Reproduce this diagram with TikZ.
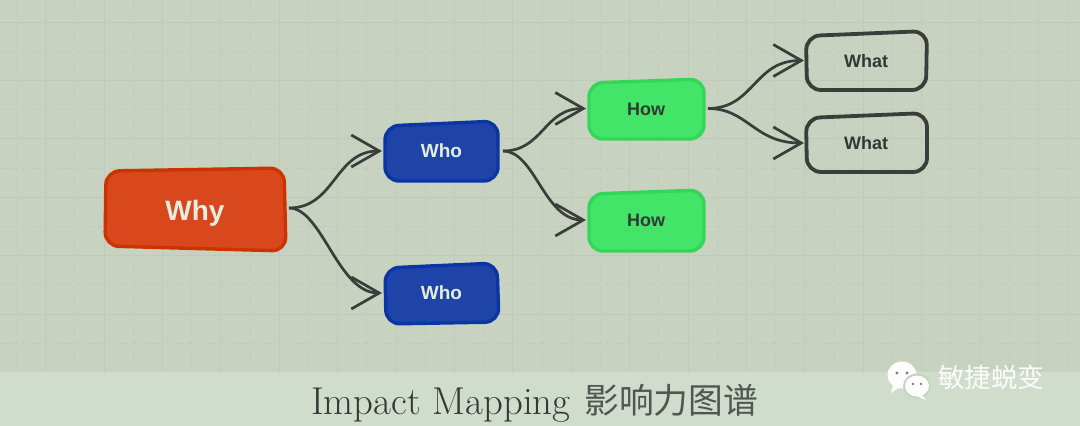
\documentclass[tikz,border=0pt]{standalone}
\usepackage{fontspec}
\setmainfont{Liberation Sans}
\newfontfamily\lmfont{Latin Modern Roman}
\newfontfamily\cjkfont{Noto Sans CJK SC}
\usetikzlibrary{arrows.meta,calc}
\definecolor{bgc}{HTML}{C8D2C0}
\definecolor{bandc}{HTML}{D0DDCC}
\definecolor{gridc}{HTML}{BFCAB7}
\definecolor{inkc}{HTML}{3A3D39}
\definecolor{whyfill}{HTML}{D8481C}
\definecolor{whyline}{HTML}{CC3300}
\definecolor{whofill}{HTML}{1F44A8}
\definecolor{wholine}{HTML}{0B35A3}
\definecolor{howfill}{HTML}{42E567}
\definecolor{howline}{HTML}{35D658}
\definecolor{lighttext}{HTML}{E4EEDF}
\definecolor{darktext}{HTML}{333835}
\tikzset{
  x=1pt,y=-1pt,
  gridsolid/.style={gridc,line width=1pt},
  griddash/.style={gridc,line width=1pt,dash pattern=on 6pt off 5pt},
  boxshape/.style={line width=3.4pt,rounded corners=14pt,line join=round},
  whybox/.style={boxshape,draw=whyline,fill=whyfill},
  whobox/.style={boxshape,draw=wholine,fill=whofill},
  howbox/.style={boxshape,draw=howline,fill=howfill},
  whatbox/.style={boxshape,line width=3.8pt,draw=inkc},
  label/.style={inner sep=0pt,outer sep=0pt,align=center},
  whylabel/.style={label,minimum width=188pt,font=\fontsize{28}{28}\selectfont\bfseries,text=lighttext,text height=24pt,text depth=0pt},
  wholabel/.style={label,minimum width=123pt,font=\fontsize{19}{19}\selectfont\bfseries,text=lighttext,text height=12pt,text depth=0pt},
  howlabel/.style={label,minimum width=124pt,font=\fontsize{18}{18}\selectfont\bfseries,text=darktext,text height=13pt,text depth=0pt},
  whatlabel/.style={label,minimum width=128pt,font=\fontsize{18}{18}\selectfont\bfseries,text=darktext,text height=13pt,text depth=0pt},
  link/.style={draw=inkc,line width=2.7pt,shorten >=-2pt,-{Straight Barb[length=28pt,width=32pt,line width=2.7pt]}},
}
\begin{document}
\begin{tikzpicture}
\useasboundingbox (0,0) rectangle (1080,426);
\fill[bgc] (0,0) rectangle (1080,426);
% grid
\foreach \k in {0,...,18} {
  \pgfmathsetmacro{\gx}{45.6+58.4*\k}
  \pgfmathsetmacro{\hx}{\gx+29.2}
  \draw[gridsolid] (\gx,0) -- (\gx,372);
  \draw[griddash] (\hx,0) -- (\hx,372);
}
\draw[griddash] (16.4,0) -- (16.4,372);
\foreach \k in {0,...,6} {
  \pgfmathsetmacro{\gy}{22+58.4*\k}
  \pgfmathsetmacro{\hy}{\gy+29.2}
  \draw[gridsolid] (0,\gy) -- (1080,\gy);
  \ifnum\k<6 \draw[griddash] (0,\hy) -- (1080,\hy); \fi
}
\fill[bandc] (0,372) rectangle (1080,426);
% box bodies
\draw[whybox] (106,171) -- (284,168) -- (286,251) -- (105,246) -- cycle;
\draw[whobox] (385,126) -- (498,121) -- (498,181) -- (385,181) -- cycle;
\draw[whobox] (385,268) -- (497,263) -- (499,322) -- (386,324) -- cycle;
\draw[howbox] (589,83) -- (704,79) -- (704,139) -- (589,139) -- cycle;
\draw[howbox] (589,194) -- (704,190) -- (704,251) -- (589,251) -- cycle;
\draw[whatbox] (806,36) -- (927,31) -- (926,90) -- (807,90) -- cycle;
\draw[whatbox] (806,118) -- (927,113) -- (927,172) -- (807,172) -- cycle;
% labels
\node[whylabel] (why) at (195,208) {Why};
\node[wholabel] (who1) at (441.5,151) {Who};
\node[wholabel] (who2) at (441.5,293) {Who};
\node[howlabel] (how1) at (646,108.5) {How};
\node[howlabel] (how2) at (646,220) {How};
\node[whatlabel] (what1) at (866,60.5) {What};
\node[whatlabel] (what2) at (866,143) {What};
% connectors
\draw[link] (why.east) .. controls +(46,0) and ($(who1.west)+(-45,0)$) .. (who1.west);
\draw[link] (why.east) .. controls +(33,0) and ($(who2.west)+(-42,0)$) .. (who2.west);
\draw[link] (who1.east) .. controls +(40,0) and ($(how1.west)+(-40,0)$) .. (how1.west);
\draw[link] (who1.east) .. controls +(32,0) and ($(how2.west)+(-40,0)$) .. (how2.west);
\draw[link] (how1.east) .. controls +(46,0) and ($(what1.west)+(-48,0)$) .. (what1.west);
\draw[link] (how1.east) .. controls +(40,0) and ($(what2.west)+(-48,0)$) .. (what2.west);
% title
\node[anchor=base west,inner sep=0pt,text=darktext] (titlelatin) at (311,414) {\lmfont\fontsize{38.8}{38}\selectfont Impact Mapping};
\node[anchor=base west,inner sep=0pt,text=darktext!85] (titlecjk) at (584,413) {\cjkfont\fontsize{34.8}{36}\selectfont 影响力图谱};
% watermark
\fill[white!95!bgc] (902,375) ellipse [x radius=14.5,y radius=13.5];
\fill[white!95!bgc] (893,385) -- (891,393) -- (900,387) -- cycle;
\fill[bgc] (917,386) ellipse [x radius=14,y radius=12.5];
\fill[white!95!bgc] (917,386) ellipse [x radius=12,y radius=10.5];
\fill[white!95!bgc] (921,394) -- (926,400) -- (914,395) -- cycle;
\fill[gray] (897,373) circle (1.6);
\fill[gray] (907,373) circle (1.6);
\fill[gray] (913,384) circle (1.3);
\fill[gray] (921,384) circle (1.3);
\node[anchor=base west,inner sep=0pt,text=white!92!bgc] (mark) at (938,387) {\cjkfont\fontsize{26.5}{28}\selectfont 敏捷蜕变};
\end{tikzpicture}
\end{document}
